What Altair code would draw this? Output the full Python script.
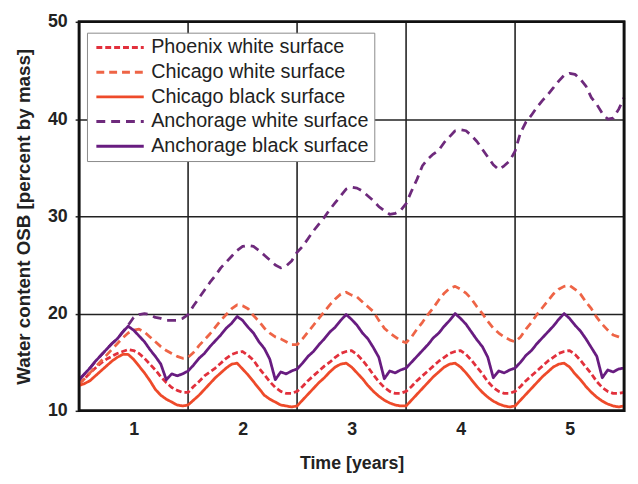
import altair as alt
import pandas as pd

# sampling grid in years (0 .. 5, step 0.05)
years = [round(i * 0.05, 2) for i in range(101)]

phoenix_white = [
    12.8, 13.3, 13.9, 14.4, 14.9, 15.3, 15.6, 15.9, 16.1, 16.3, 16.2, 15.9, 15.4, 14.8, 14.2, 13.5, 12.9, 12.4, 12.1, 11.9,
    11.9, 12.5, 13.0, 13.6, 14.0, 14.4, 14.9, 15.4, 15.8, 16.0, 16.1, 15.7, 15.2, 14.4, 13.7, 13.0, 12.4, 12.0, 11.8, 11.8,
    12.0, 12.5, 13.1, 13.6, 14.1, 14.6, 15.0, 15.5, 15.9, 16.1, 16.2, 15.8, 15.2, 14.5, 13.7, 13.0, 12.4, 12.0, 11.8, 11.8,
    12.0, 12.5, 13.1, 13.6, 14.1, 14.6, 15.1, 15.5, 15.9, 16.1, 16.2, 15.8, 15.2, 14.5, 13.8, 13.0, 12.4, 12.0, 11.8, 11.8,
    12.0, 12.5, 13.1, 13.6, 14.1, 14.6, 15.1, 15.5, 15.9, 16.1, 16.2, 15.8, 15.2, 14.5, 13.8, 13.0, 12.4, 12.0, 11.8, 11.8,
    11.9,
]
chicago_white = [
    12.8, 13.3, 13.9, 14.5, 15.1, 15.7, 16.3, 16.9, 17.5, 18.0, 18.3, 18.4, 18.1, 17.6, 17.1, 16.6, 16.2, 15.9, 15.6, 15.4,
    15.5, 16.0, 16.7, 17.3, 17.9, 18.6, 19.3, 19.9, 20.5, 20.9, 20.8, 20.5, 19.8, 19.2, 18.5, 18.0, 17.6, 17.4, 17.1, 16.8,
    16.8, 17.4, 18.1, 18.8, 19.5, 20.2, 20.9, 21.5, 22.0, 22.2, 21.9, 21.7, 21.2, 20.7, 20.2, 19.3, 18.5, 18.0, 17.6, 17.2,
    17.0, 17.6, 18.4, 19.1, 19.9, 20.6, 21.4, 22.1, 22.6, 22.8, 22.5, 22.1, 21.5, 20.7, 20.0, 19.2, 18.5, 18.0, 17.6, 17.3,
    17.1, 17.6, 18.4, 19.1, 19.9, 20.6, 21.3, 22.0, 22.5, 22.8, 22.9, 22.5, 22.0, 21.2, 20.5, 19.6, 18.9, 18.3, 17.8, 17.6,
    17.4,
]
chicago_black = [
    12.6, 12.8, 13.1, 13.6, 14.1, 14.6, 15.1, 15.5, 15.8, 15.8, 15.3, 14.6, 13.9, 13.1, 12.2, 11.6, 11.2, 10.9, 10.6, 10.5,
    10.6, 11.1, 11.6, 12.2, 12.8, 13.4, 13.9, 14.4, 14.8, 14.9, 14.3, 13.7, 13.0, 12.3, 11.6, 11.2, 10.9, 10.6, 10.5, 10.4,
    10.5, 11.1, 11.7, 12.3, 12.9, 13.4, 14.0, 14.5, 14.8, 14.9, 14.5, 13.9, 13.3, 12.6, 12.0, 11.5, 11.1, 10.8, 10.6, 10.5,
    10.5, 11.1, 11.7, 12.3, 12.9, 13.5, 14.0, 14.5, 14.8, 14.9, 14.5, 13.9, 13.2, 12.5, 11.9, 11.4, 11.0, 10.7, 10.5, 10.4,
    10.5, 11.1, 11.7, 12.3, 12.9, 13.5, 14.0, 14.5, 14.8, 14.9, 14.5, 13.8, 13.2, 12.5, 11.9, 11.4, 11.0, 10.7, 10.5, 10.4,
    10.5,
]
anchorage_white = [
    13.2, 13.8, 14.4, 15.1, 15.7, 16.3, 16.9, 17.4, 18.1, 18.8, 19.6, 19.9, 20.0, 19.9, 19.6, 19.5, 19.3, 19.3, 19.3, 19.5,
    19.9, 20.8, 21.6, 22.4, 23.2, 23.9, 24.7, 25.3, 25.9, 26.5, 26.9, 27.0, 26.9, 26.5, 26.0, 25.5, 25.0, 24.7, 24.9, 25.4,
    26.3, 26.9, 27.7, 28.5, 29.2, 29.9, 30.7, 31.4, 32.1, 32.8, 33.0, 32.9, 32.6, 32.1, 31.6, 31.0, 30.6, 30.2, 30.3, 30.6,
    31.3, 32.6, 33.8, 35.2, 35.9, 36.4, 36.8, 37.6, 38.2, 38.8, 38.9, 38.8, 38.3, 37.7, 36.9, 36.1, 35.3, 34.8, 35.2, 35.7,
    36.7, 38.6, 39.7, 40.4, 41.2, 41.9, 42.5, 43.2, 43.9, 44.5, 44.7, 44.6, 44.1, 43.4, 42.2, 41.5, 40.6, 40.0, 40.1, 41.0,
    42.2,
]
anchorage_black = [
    13.2, 13.8, 14.4, 15.1, 15.7, 16.3, 16.9, 17.4, 18.1, 18.7, 18.3, 17.7, 17.1, 16.3, 15.6, 14.8, 13.2, 13.8, 13.6, 13.8,
    14.1, 14.7, 15.4, 15.9, 16.6, 17.2, 17.8, 18.5, 19.0, 19.7, 19.3, 18.6, 18.0, 17.1, 16.4, 15.3, 13.2, 14.0, 13.8, 14.1,
    14.3, 14.9, 15.6, 16.1, 16.8, 17.4, 18.1, 18.6, 19.3, 19.9, 19.4, 18.8, 18.0, 17.4, 16.5, 15.5, 13.3, 14.1, 13.9, 14.2,
    14.4, 15.0, 15.6, 16.2, 16.8, 17.5, 18.0, 18.7, 19.3, 20.0, 19.5, 18.9, 18.1, 17.3, 16.6, 15.5, 13.4, 14.1, 13.9, 14.2,
    14.4, 15.0, 15.7, 16.2, 16.9, 17.5, 18.1, 18.7, 19.4, 20.0, 19.5, 18.8, 18.2, 17.4, 16.5, 15.6, 13.4, 14.2, 14.0, 14.3,
    14.4,
]

series_names = [
    "Phoenix white surface",
    "Chicago white surface",
    "Chicago black surface",
    "Anchorage white surface",
    "Anchorage black surface",
]
series_values = [phoenix_white, chicago_white, chicago_black, anchorage_white, anchorage_black]
series_colors = ["#e2303c", "#ee6446", "#ee4a2a", "#6e2a7c", "#681c80"]
series_dashes = [[6, 3], [8, 5], [1, 0], [9, 6], [1, 0]]

grid_years = [1, 2, 3, 4]
label_positions = [0.5, 1.5, 2.5, 3.5, 4.5]
year_labels = ["1", "2", "3", "4", "5"]
y_ticks = [10, 20, 30, 40, 50]
x_range = [0, 5]
y_range = [10, 50]

rows = []
for name, vals in zip(series_names, series_values):
    for t, v in zip(years, vals):
        rows.append({"t": t, "w": v, "series": name})
df = pd.DataFrame(rows)

FONT = "Liberation Sans"
INK = "#222222"
x_scale = alt.Scale(domain=x_range, nice=False, zero=False)
y_scale = alt.Scale(domain=y_range, nice=False, zero=False)

label_expr = "[" + ",".join("'%s'" % s for s in year_labels) + "][floor(datum.value)]"

x_axis = alt.Axis(
    values=label_positions,
    labelExpr=label_expr,
    grid=False,
    ticks=False,
    domain=False,
    labelFont=FONT,
    labelFontSize=18,
    labelFontWeight="bold",
    labelColor=INK,
    labelPadding=10,
    titleFont=FONT,
    titleFontSize=18,
    titleFontWeight="bold",
    titleColor=INK,
    titleY=53,
    titleBaseline="middle",
)
y_axis = alt.Axis(
    values=y_ticks,
    grid=True,
    gridColor=INK,
    gridWidth=1.6,
    domain=False,
    tickSize=4,
    tickColor=INK,
    tickWidth=1.5,
    labelFont=FONT,
    labelFontSize=18,
    labelFontWeight="bold",
    labelColor=INK,
    labelPadding=8,
    titleFont=FONT,
    titleFontSize=19,
    titleFontWeight="bold",
    titleColor=INK,
    titleX=-56,
    titleY=197,
    titleAlign="center",
    titleBaseline="middle",
)

x_enc = alt.X("t:Q", scale=x_scale, title="Time [years]", axis=x_axis)
y_enc = alt.Y("w:Q", scale=y_scale, title="Water content OSB [percent by mass]", axis=y_axis)

legend = alt.Legend(
    title=None,
    orient="none",
    legendX=8,
    legendY=11,
    symbolType="stroke",
    symbolSize=2304,
    symbolStrokeWidth=3,
    symbolOffset=3,
    clipHeight=20,
    rowPadding=5,
    padding=5,
    labelOffset=6,
    labelFont=FONT,
    labelFontSize=20,
    labelColor=INK,
    labelLimit=400,
    fillColor="white",
    strokeColor="#8a8a8a",
)

grid = alt.Chart(pd.DataFrame({"t": grid_years})).mark_rule(
    color=INK, strokeWidth=1.6
).encode(x=x_enc)

lines = alt.Chart(df).mark_line(strokeWidth=2.8, strokeJoin="round").encode(
    x=x_enc,
    y=y_enc,
    color=alt.Color(
        "series:N",
        scale=alt.Scale(domain=series_names, range=series_colors),
        legend=legend,
    ),
    strokeDash=alt.StrokeDash(
        "series:N",
        scale=alt.Scale(domain=series_names, range=series_dashes),
        legend=legend,
    ),
    order=alt.Order("t:Q"),
)

frame = alt.Chart(pd.DataFrame({"a": [0]})).mark_rect(
    fill=None, stroke="#111111", strokeWidth=2.6
).encode(
    x=alt.datum(x_range[0], scale=x_scale),
    x2=alt.datum(x_range[1]),
    y=alt.datum(y_range[0], scale=y_scale),
    y2=alt.datum(y_range[1]),
)

chart = (
    alt.layer(grid, lines, frame)
    .properties(
        width=552,
        height=394,
        autosize=alt.AutoSizeParams(type="none"),
        padding={"left": 72, "top": 11, "right": 6, "bottom": 63},
        background="white",
    )
    .configure_view(stroke="#111111", strokeWidth=2.6)
)

chart.save("out.html", embed_options={"renderer": "svg", "actions": False})
